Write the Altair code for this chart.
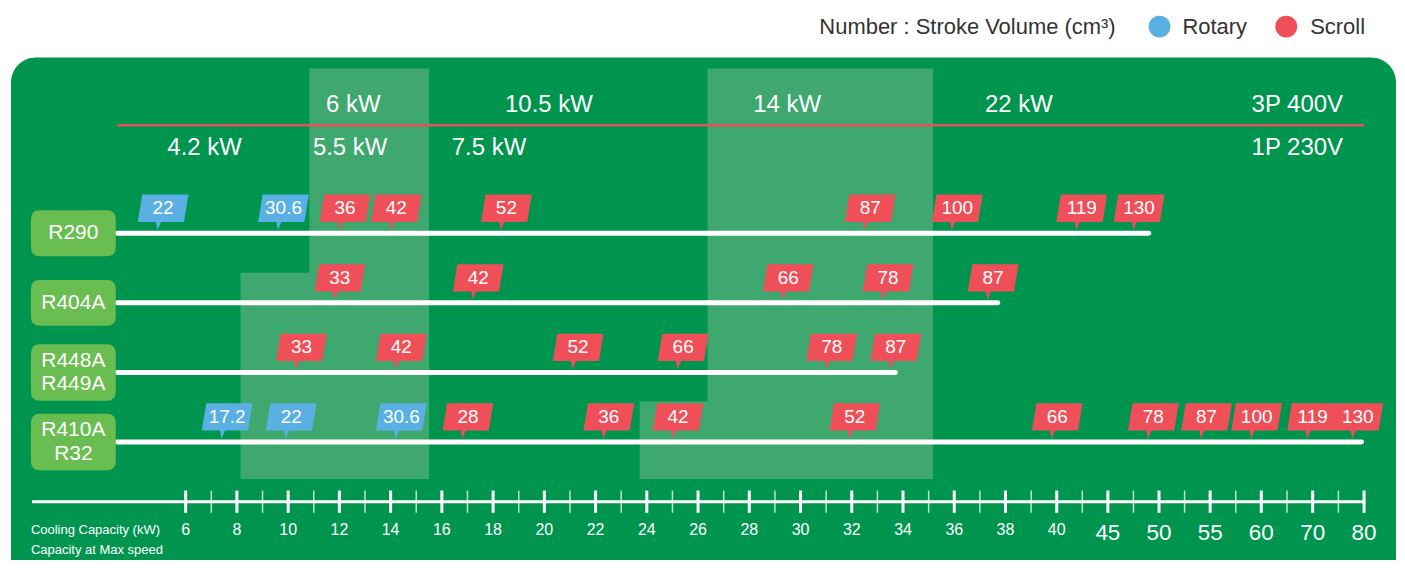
import altair as alt
import pandas as pd

# ---------------- data ----------------
rows = ["R290", "R404A", "R448A", "R410A"]
row_labels = ["R290", "R404A", "R448A\nR449A", "R410A\nR32"]
row_lines = ["1", "1", "2", "2"]
row_end_kw = [49.0, 37.7, 33.7, 79.5]

# stroke-volume tags: position on capacity axis (kW), label, compressor type
r290_kw = [4.9, 9.6, 12.0, 14.0, 18.3, 32.5, 35.9, 41.9, 47.5]
r290_vol = ["22", "30.6", "36", "42", "52", "87", "100", "119", "130"]
r290_type = ["Rotary", "Rotary", "Scroll", "Scroll", "Scroll", "Scroll", "Scroll", "Scroll", "Scroll"]

r404a_kw = [11.8, 17.2, 29.3, 33.2, 37.3]
r404a_vol = ["33", "42", "66", "78", "87"]
r404a_type = ["Scroll"] * 5

r448a_kw = [10.3, 14.2, 21.1, 25.2, 31.0, 33.5]
r448a_vol = ["33", "42", "52", "66", "78", "87"]
r448a_type = ["Scroll"] * 6

r410a_kw = [7.4, 9.9, 14.2, 16.8, 22.3, 25.0, 31.9, 39.8, 48.9, 54.1, 59.0, 68.9, 77.7]
r410a_vol = ["17.2", "22", "30.6", "28", "36", "42", "52", "66", "78", "87", "100", "119", "130"]
r410a_type = ["Rotary", "Rotary", "Rotary"] + ["Scroll"] * 10

# highlighted capacity bands (kW)
band_lo_kw = [10.83, 8.14, 26.37, 23.72]
band_hi_kw = [15.5, 15.5, 35.17, 35.17]

# header capacity labels
top_labels = ["6 kW", "10.5 kW", "14 kW", "22 kW"]
top_label_kw = [12.54, 20.18, 29.48, 38.52]
bottom_labels = ["4.2 kW", "5.5 kW", "7.5 kW"]
bottom_label_kw = [6.74, 12.42, 17.84]
phase_labels = ["3P 400V", "1P 230V"]
phase_label_kw = 75.9

# axis
major_ticks = [6, 8, 10, 12, 14, 16, 18, 20, 22, 24, 26, 28, 30, 32, 34, 36, 38, 40, 45, 50, 55, 60, 70, 80]
minor_ticks = [7, 9, 11, 13, 15, 17, 19, 21, 23, 25, 27, 29, 31, 33, 35, 37, 39, 42.5, 47.5, 52.5, 57.5, 65, 75]
axis_start_kw = 0
axis_end_kw = 80
line_start_kw = 3.33

kinds = ["Rotary", "Scroll"]

# ---------------- styles ----------------
GREEN = "#00954f"
SHADE = "#3ea86f"
BOX = "#6abd51"
RED = "#ef4f58"
BLUE = "#5ab0e3"
WHITE = "#ffffff"
SANS = "Liberation Sans"

X = alt.Scale(domain=[0, 40, 60, 80], range=[24, 1051, 1256, 1359], zero=False, nice=False)
Y = alt.Scale(type="point", domain=rows, range=[225.2, 434.3], padding=0)
COL = alt.Scale(domain=kinds, range=[BLUE, RED])

TAG = ("M-0.3825,-0.97 L0.775,-0.97 L0.6625,-0.285 L0.0875,-0.285 L0,-0.08 "
       "L-0.0375,-0.285 L-0.495,-0.285 Z")
BOX1 = ("M-0.67,-0.46 L0.67,-0.46 Q0.85,-0.46 0.85,-0.28 L0.85,0.28 Q0.85,0.46 0.67,0.46 "
        "L-0.67,0.46 Q-0.85,0.46 -0.85,0.28 L-0.85,-0.28 Q-0.85,-0.46 -0.67,-0.46 Z")
BOX2 = ("M-0.67,-0.566 L0.67,-0.566 Q0.85,-0.566 0.85,-0.386 L0.85,0.386 Q0.85,0.566 0.67,0.566 "
        "L-0.67,0.566 Q-0.85,0.566 -0.85,0.386 L-0.85,-0.386 Q-0.85,-0.566 -0.67,-0.566 Z")

dummy = pd.DataFrame({"_": [0]})

tags = pd.concat([
    pd.DataFrame({"row": r, "kw": k, "vol": v, "kind": t})
    for r, k, v, t in [
        ("R290", r290_kw, r290_vol, r290_type),
        ("R404A", r404a_kw, r404a_vol, r404a_type),
        ("R448A", r448a_kw, r448a_vol, r448a_type),
        ("R410A", r410a_kw, r410a_vol, r410a_type),
    ]
], ignore_index=True)

rows_df = pd.DataFrame({"row": rows, "label": row_labels, "lines": row_lines, "end": row_end_kw})
rows_df["start"] = line_start_kw


def xd(v):
    return alt.X(datum=v, type="quantitative", scale=X, axis=None)


layers = []

# panel
layers.append(alt.Chart(dummy).mark_rect(color=GREEN, cornerRadius=25).encode(
    x=alt.value(3), x2=alt.value(1391), y=alt.value(49), y2=alt.value(585)))

# shaded bands (tall part drawn full height so the step has no seam)
band_y = [(60, 471.5), (264.7, 471.5), (60, 471.5), (393.7, 471.5)]
for lo, hi, (y0, y1) in zip(band_lo_kw, band_hi_kw, band_y):
    layers.append(alt.Chart(dummy).mark_rect(color=SHADE).encode(
        x=xd(lo), x2=alt.X2(datum=hi), y=alt.value(y0), y2=alt.value(y1)))

# header red line
layers.append(alt.Chart(dummy).mark_rule(color="#e8505b", strokeWidth=2.5).encode(
    x=xd(line_start_kw), x2=alt.X2(datum=79.96), y=alt.value(117)))

# header texts
hdr_top = pd.DataFrame({"t": top_labels, "kw": top_label_kw})
hdr_bot = pd.DataFrame({"t": bottom_labels, "kw": bottom_label_kw})
layers.append(alt.Chart(hdr_top).mark_text(font=SANS, fontSize=24, color=WHITE, baseline="middle").encode(
    x=alt.X("kw:Q", scale=X, axis=None), y=alt.value(96.5), text="t:N"))
layers.append(alt.Chart(hdr_bot).mark_text(font=SANS, fontSize=24, color=WHITE, baseline="middle").encode(
    x=alt.X("kw:Q", scale=X, axis=None), y=alt.value(140), text="t:N"))
layers.append(alt.Chart(dummy).mark_text(font=SANS, fontSize=24, color=WHITE, baseline="middle", align="right",
                                         text=phase_labels[0]).encode(x=xd(phase_label_kw), y=alt.value(96.5)))
layers.append(alt.Chart(dummy).mark_text(font=SANS, fontSize=24, color=WHITE, baseline="middle", align="right",
                                         text=phase_labels[1]).encode(x=xd(phase_label_kw), y=alt.value(140)))

# refrigerant lines
layers.append(alt.Chart(rows_df).mark_rule(color=WHITE, strokeWidth=5, strokeCap="round").encode(
    x=alt.X("start:Q", scale=X, axis=None), x2=alt.X2("end:Q"), y=alt.Y("row:N", scale=Y, axis=None)))

# tags
layers.append(alt.Chart(tags).mark_point(shape=TAG, filled=True, size=6400, opacity=1, strokeWidth=0).encode(
    x=alt.X("kw:Q", scale=X, axis=None), y=alt.Y("row:N", scale=Y, axis=None),
    color=alt.Color("kind:N", scale=COL, legend=None)))
layers.append(alt.Chart(tags).mark_text(font=SANS, fontSize=19, color=WHITE, baseline="middle", dx=5.6, dy=-25).encode(
    x=alt.X("kw:Q", scale=X, axis=None), y=alt.Y("row:N", scale=Y, axis=None), text="vol:N"))

# refrigerant boxes
layers.append(alt.Chart(rows_df).mark_point(filled=True, size=10000, opacity=1, strokeWidth=0, color=BOX).encode(
    x=alt.value(65.5), y=alt.Y("row:N", scale=Y, axis=None),
    shape=alt.Shape("lines:N", scale=alt.Scale(domain=["1", "2"], range=[BOX1, BOX2]), legend=None)))
for n, off in [("1", 0), ("2", -11.65)]:
    layers.append(alt.Chart(rows_df).transform_filter(alt.datum.lines == n).mark_text(
        font=SANS, fontSize=21, color=WHITE, baseline="middle", lineBreak="\n", lineHeight=23.3, dy=off).encode(
        x=alt.value(65.5), y=alt.Y("row:N", scale=Y, axis=None), text="label:N"))

# bottom axis
layers.append(alt.Chart(dummy).mark_rule(color=WHITE, strokeWidth=3).encode(
    x=xd(axis_start_kw), x2=alt.X2(datum=axis_end_kw), y=alt.value(494.3)))
layers.append(alt.Chart(pd.DataFrame({"v": major_ticks})).mark_rule(color=WHITE, strokeWidth=3).encode(
    x=alt.X("v:Q", scale=X, axis=None), y=alt.value(483), y2=alt.value(505.3)))
layers.append(alt.Chart(pd.DataFrame({"v": minor_ticks})).mark_rule(color=WHITE, strokeWidth=1.5, opacity=0.75).encode(
    x=alt.X("v:Q", scale=X, axis=None), y=alt.value(483), y2=alt.value(505.3)))
small = [v for v in major_ticks if v <= 40]
big = [v for v in major_ticks if v > 40]
layers.append(alt.Chart(pd.DataFrame({"v": small})).mark_text(font=SANS, fontSize=16, color=WHITE, baseline="middle").encode(
    x=alt.X("v:Q", scale=X, axis=None), y=alt.value(522.7), text="v:Q"))
layers.append(alt.Chart(pd.DataFrame({"v": big})).mark_text(font=SANS, fontSize=22.5, color=WHITE, baseline="middle").encode(
    x=alt.X("v:Q", scale=X, axis=None), y=alt.value(525.5), text="v:Q"))
layers.append(alt.Chart(dummy).mark_text(font=SANS, fontSize=13, color=WHITE, baseline="middle", align="left",
                                         text="Cooling Capacity (kW)").encode(x=alt.value(23), y=alt.value(522.5)))
layers.append(alt.Chart(dummy).mark_text(font=SANS, fontSize=13, color=WHITE, baseline="middle", align="left",
                                         text="Capacity at Max speed").encode(x=alt.value(23), y=alt.value(542.7)))

# legend
layers.append(alt.Chart(dummy).mark_text(font=SANS, fontSize=22, color="#333333", baseline="middle", align="right",
                                         text="Number : Stroke Volume (cm³)").encode(x=alt.value(1110), y=alt.value(18)))
for k, cx, tx in [("Rotary", 1154, 1177), ("Scroll", 1281, 1305)]:
    layers.append(alt.Chart(pd.DataFrame({"kind": [k]})).mark_point(shape="circle", filled=True, size=480, opacity=1,
                                                                     strokeWidth=0).encode(
        x=alt.value(cx), y=alt.value(18), color=alt.Color("kind:N", scale=COL, legend=None)))
    layers.append(alt.Chart(dummy).mark_text(font=SANS, fontSize=22, color="#333333", baseline="middle", align="left",
                                             text=k).encode(x=alt.value(tx), y=alt.value(18)))

chart = alt.layer(*layers).properties(
    width=1392, height=552, autosize=alt.AutoSizeParams(type="none"), padding=0, background="white"
).configure_view(stroke=None)

chart.save("out.html", embed_options={"renderer": "svg", "actions": False})
